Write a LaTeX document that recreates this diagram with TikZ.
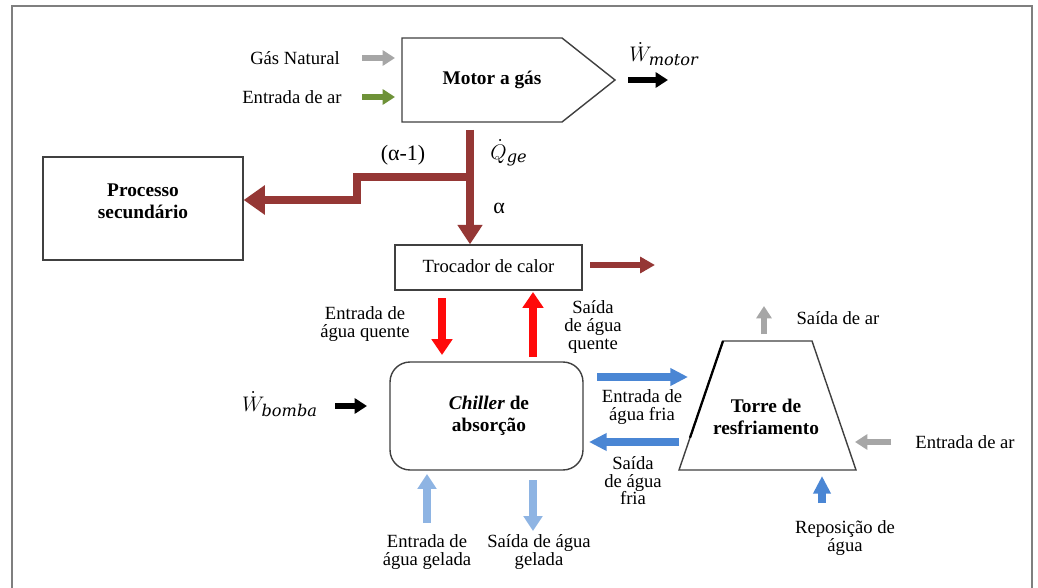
\documentclass[tikz,border=0pt]{standalone}
\usepackage{fontspec}
\setmainfont{Liberation Serif}
\newfontfamily\subfnt{DejaVu Serif}
\usetikzlibrary{arrows.meta,calc}
\definecolor{dkred}{HTML}{953735}
\definecolor{brred}{HTML}{FF0A0A}
\definecolor{medblue}{HTML}{4A86D4}
\definecolor{ltblue}{HTML}{8EB4E3}
\definecolor{gry}{HTML}{A6A6A6}
\definecolor{grn}{HTML}{6E9238}
\definecolor{frame}{HTML}{7F7F7F}
\newcommand{\msub}[1]{\hbox{\fontsize{9.2}{9.2}\subfnt\itshape #1}}
\begin{document}
\begin{tikzpicture}[x=0.02cm,y=-0.02cm,
  lbl/.style={font=\fontsize{10.6}{10}\selectfont, align=center, inner sep=0pt},
  blbl/.style={font=\fontsize{11}{12.5}\selectfont\bfseries, align=center, inner sep=0pt},
  mlbl/.style={font=\fontsize{13}{13}\selectfont, inner sep=0pt},
  box/.style={draw=black!75, line width=0.8pt},
  dkarrow/.style={draw=dkred, line width=4.5pt, -{Triangle[length=11pt,width=13.6pt]}},
  dkarrowb/.style={draw=dkred, line width=5pt, -{Triangle[length=12pt,width=16pt]}},
  dkarrows/.style={draw=dkred, line width=3.8pt, -{Triangle[length=8.5pt,width=9pt]}},
  rdarrow/.style={draw=brred, line width=4pt, -{Triangle[length=9pt,width=11.5pt]}},
  bluearrow/.style={draw=medblue, line width=4pt, -{Triangle[length=10pt,width=9.5pt]}},
  ltarrow/.style={draw=ltblue, line width=4.3pt, -{Triangle[length=8.5pt,width=10.5pt]}},
  gyarrow/.style={draw=gry, line width=3.8pt, -{Triangle[length=7pt,width=8.5pt]}},
  gnarrow/.style={draw=grn, line width=3.8pt, -{Triangle[length=7pt,width=8.5pt]}},
  bkarrow/.style={draw=black, line width=3.6pt, -{Triangle[length=7pt,width=8.5pt]}}
]
\useasboundingbox (0,0) rectangle (1038,588);
\fill[white] (0,0) rectangle (1038,588);
% frame
\draw[frame, line width=1.2pt] (12,588) -- (12,6) -- (1032,6) -- (1032,588);

% Motor a gas
\coordinate (m1) at (402,38);
\coordinate (m2) at (562,38);
\coordinate (m3) at (615,80);
\coordinate (m4) at (562,122);
\coordinate (m5) at (402,122);
\draw[box] (m1) -- (m2) -- (m3) -- (m4) -- (m5) -- cycle;
\node[blbl] (motor) at (492,80) {Motor a gás};

\node[lbl] (gn) at (295,58) {Gás Natural};
\coordinate (gnA) at (362,58);
\coordinate (gnB) at (395,58);
\draw[gyarrow] (gnA) -- (gnB);
\node[lbl] (ear) at (292,97) {Entrada de ar};
\coordinate (earA) at (362,97);
\coordinate (earB) at (395,97);
\draw[gnarrow] (earA) -- (earB);

\node[mlbl] (wmotor) at (664,54) {$\dot{W}_{\msub{motor}}$};
\coordinate (wmA) at (628,80);
\coordinate (wmB) at (668,80);
\draw[bkarrow] (wmA) -- (wmB);

% Processo secundario
\node[box, minimum width=4cm, minimum height=2.06cm, inner sep=0pt] (proc) at (143,208.5) {};
\node[blbl] (proctxt) at (143,201) {Processo\\secundário};

% Trocador de calor
\node[box, minimum width=3.74cm, minimum height=0.9cm, inner sep=0pt] (troc) at (488.5,267.5) {};
\node[lbl] (troctxt) at (488.5,266) {Trocador de calor};

% heat flow
\coordinate (qtop) at (470,130);
\coordinate (qbr) at (470,177);
\coordinate (st1) at (357,177);
\coordinate (st2) at (357,200);
\draw[dkarrow] (qtop) -- (qtop |- troc.north);
\draw[dkarrowb] (qbr) -- (st1) -- (st2) -- (proc.east |- st2);
\node[lbl, font=\fontsize{12.5}{12}\selectfont] (am1) at (403,155) {(α-1)};
\node[mlbl] (qge) at (509,153) {$\dot{Q}_{\msub{ge}}$};
\node[lbl, font=\fontsize{12.5}{12}\selectfont] (alpha) at (499,208) {α};
\coordinate (tout) at (655,265);
\coordinate (toutA) at (590,265);
\draw[dkarrows] (toutA) -- (tout);

% Chiller
\node[box, rounded corners=0.4cm, minimum width=3.86cm, minimum height=2.16cm, inner sep=0pt] (chil) at (486.5,416) {};
\node[blbl] (chiltxt) at (489,416) {\textit{Chiller} de\\absorção};

% hot water arrows
\coordinate (hwA) at (442,298);
\coordinate (hwB) at (442,355);
\draw[rdarrow] (hwA) -- (hwB);
\coordinate (hoA) at (533,357);
\coordinate (hoB) at (533,292);
\draw[rdarrow] (hoA) -- (hoB);
\node[lbl] (eaq) at (365,324) {Entrada de\\água quente};
\node[lbl] (saq) at (593,327) {Saída\\de água\\quente};

% pump
\node[mlbl] (wb) at (280,404) {$\dot{W}_{\msub{bomba}}$};
\coordinate (wbA) at (335,406);
\coordinate (wbB) at (367,406);
\draw[bkarrow] (wbA) -- (wbB);

% Torre
\coordinate (t1) at (723,341);
\coordinate (t2) at (812,341);
\coordinate (t3) at (856,470);
\coordinate (t4) at (679,470);
\draw[box] (t1) -- (t2) -- (t3) -- (t4) -- cycle;
\draw[black, line width=1.3pt] (t1) -- ($(t1)!0.75!(t4)$);
\node[blbl] (torre) at (766,417) {Torre de\\resfriamento};

% cold water
\coordinate (cwA) at (597,377);
\coordinate (cwB) at (688,377);
\draw[bluearrow] (cwA) -- (cwB);
\coordinate (csA) at (679,442);
\coordinate (csB) at (589,442);
\draw[bluearrow] (csA) -- (csB);
\node[lbl] (eaf) at (642,407) {Entrada de\\água fria};
\node[lbl] (saf) at (633,481) {Saída\\de água\\fria};

% chilled water
\coordinate (gwA) at (427,523);
\coordinate (gwB) at (427,474);
\draw[ltarrow] (gwA) -- (gwB);
\coordinate (gsA) at (533,480);
\coordinate (gsB) at (533,531);
\draw[ltarrow] (gsA) -- (gsB);
\node[lbl] (eag) at (427,552) {Entrada de\\água gelada};
\node[lbl] (sag) at (539,552) {Saída de água\\gelada};

% tower air and makeup
\coordinate (saA) at (764,334);
\coordinate (saB) at (764,306);
\draw[gyarrow] (saA) -- (saB);
\node[lbl] (sar) at (838,318) {Saída de ar};
\coordinate (eaA) at (891,442);
\coordinate (eaB) at (855,442);
\draw[gyarrow] (eaA) -- (eaB);
\node[lbl] (ear2) at (965,442) {Entrada de ar};
\coordinate (rpA) at (822,503);
\coordinate (rpB) at (822,476);
\draw[bluearrow] (rpA) -- (rpB);
\node[lbl] (rep) at (845,538) {Reposição de\\água};
\end{tikzpicture}
\end{document}
